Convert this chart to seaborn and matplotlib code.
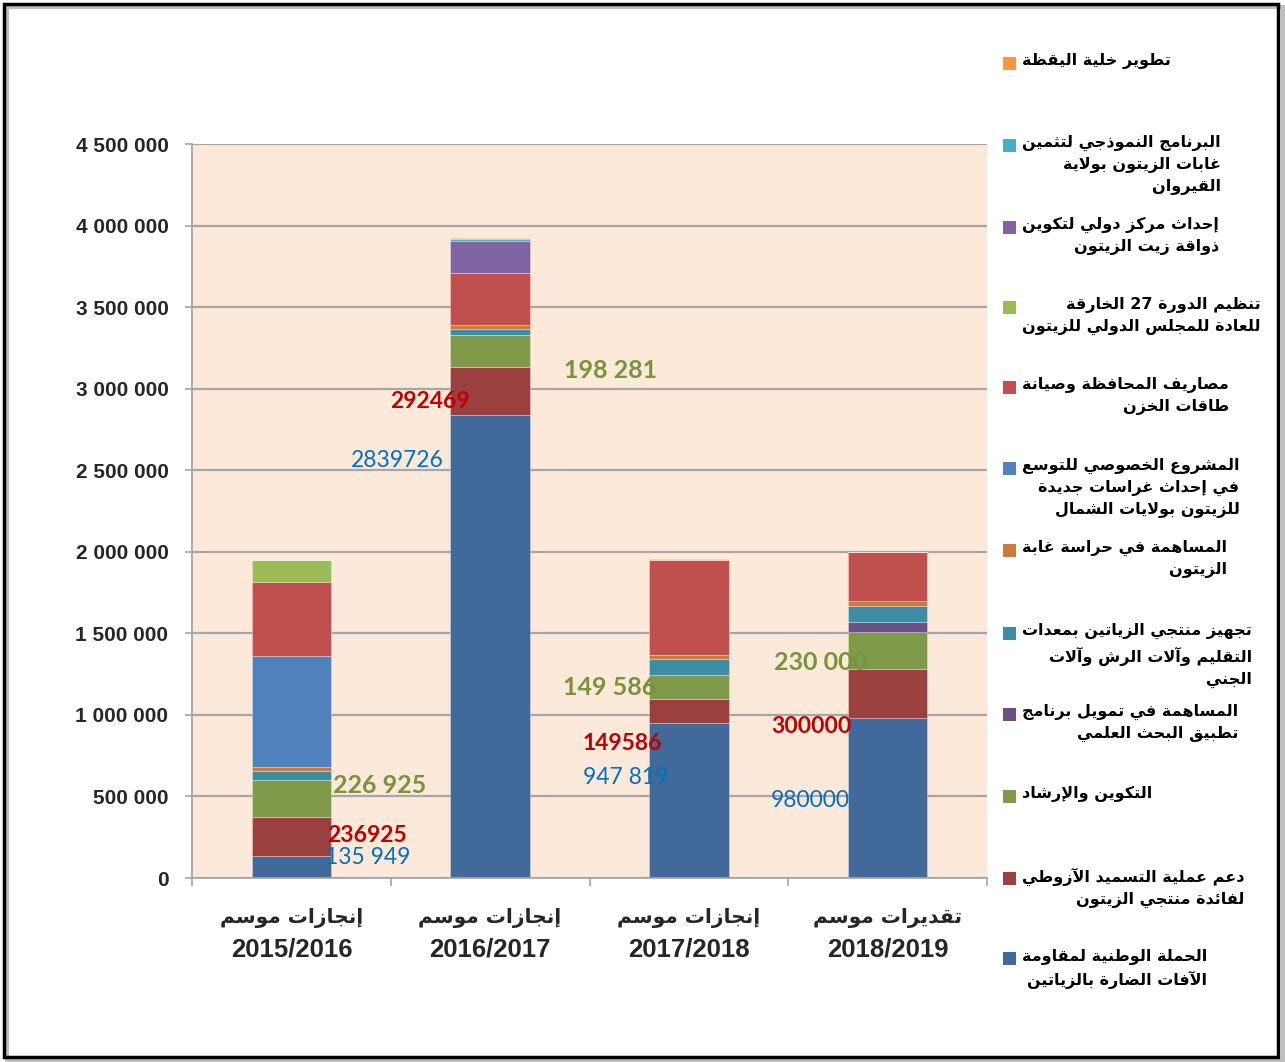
import numpy as np
import pandas as pd
import matplotlib
matplotlib.use("Agg")
import matplotlib.pyplot as plt
import seaborn as sns
from matplotlib.patches import Rectangle
from matplotlib.ticker import FuncFormatter, FixedLocator
from matplotlib.transforms import blended_transform_factory

# ---------------- data ----------------
seasons = ["2015/2016", "2016/2017", "2017/2018", "2018/2019"]
season_kind = ["إنجازات موسم", "إنجازات موسم", "إنجازات موسم", "تقديرات موسم"]

# legend order (top of legend = top of stack)
series_labels = [
    "تطوير خلية اليقظة",
    "البرنامج النموذجي لتثمين\nغابات الزيتون بولاية\nالقيروان",
    "إحداث مركز دولي لتكوين\nذواقة زيت الزيتون",
    "تنظيم الدورة 27 الخارقة\nللعادة للمجلس الدولي للزيتون",
    "مصاريف المحافظة وصيانة\nطاقات الخزن",
    "المشروع الخصوصي للتوسع\nفي إحداث غراسات جديدة\nللزيتون بولايات الشمال",
    "المساهمة في حراسة غابة\nالزيتون",
    "تجهيز منتجي الزياتين بمعدات\nالتقليم وآلات الرش وآلات\nالجني",
    "المساهمة في تمويل برنامج\nتطبيق البحث العلمي",
    "التكوين والإرشاد",
    "دعم عملية التسميد الآزوطي\nلفائدة منتجي الزيتون",
    "الحملة الوطنية لمقاومة\nالآفات الضارة بالزياتين",
]

v_cell = [0, 4000, 8000, 0]
v_kairouan = [0, 12000, 0, 0]
v_center = [0, 198000, 0, 0]
v_ioc = [133000, 0, 0, 0]
v_storage = [454000, 320000, 582000, 300000]
v_north = [684000, 0, 0, 0]
v_guard = [21000, 23000, 20000, 26000]
v_equip = [57000, 36000, 98000, 100000]
v_research = [0, 0, 0, 60000]
v_training = [226925, 198281, 149586, 230000]
v_fertil = [236925, 292469, 149586, 300000]
v_campaign = [135949, 2839726, 947819, 980000]

series_values = [v_cell, v_kairouan, v_center, v_ioc, v_storage, v_north,
                 v_guard, v_equip, v_research, v_training, v_fertil, v_campaign]

series_colors = ["#F79646", "#4BACC6", "#8064A2", "#9BBB59", "#C0504D", "#4F81BD",
                 "#CC7B3C", "#3C8CA5", "#6B5088", "#7F9A48", "#9A403E", "#41699A"]

# data labels shown on the chart
lbl_training = ["226 925", "198 281", "149 586", "230 000"]
lbl_fertil = ["236925", "292469", "149586", "300000"]
lbl_campaign = ["135 949", "2839726", "947 819", "980000"]

# ---------------- minimal Arabic shaping ----------------
_F = {
    'ء': (0xFE80, None, None, None),
    'آ': (0xFE81, 0xFE82, None, None),
    'أ': (0xFE83, 0xFE84, None, None),
    'ؤ': (0xFE85, 0xFE86, None, None),
    'إ': (0xFE87, 0xFE88, None, None),
    'ئ': (0xFE89, 0xFE8A, 0xFE8B, 0xFE8C),
    'ا': (0xFE8D, 0xFE8E, None, None),
    'ب': (0xFE8F, 0xFE90, 0xFE91, 0xFE92),
    'ة': (0xFE93, 0xFE94, None, None),
    'ت': (0xFE95, 0xFE96, 0xFE97, 0xFE98),
    'ث': (0xFE99, 0xFE9A, 0xFE9B, 0xFE9C),
    'ج': (0xFE9D, 0xFE9E, 0xFE9F, 0xFEA0),
    'ح': (0xFEA1, 0xFEA2, 0xFEA3, 0xFEA4),
    'خ': (0xFEA5, 0xFEA6, 0xFEA7, 0xFEA8),
    'د': (0xFEA9, 0xFEAA, None, None),
    'ذ': (0xFEAB, 0xFEAC, None, None),
    'ر': (0xFEAD, 0xFEAE, None, None),
    'ز': (0xFEAF, 0xFEB0, None, None),
    'س': (0xFEB1, 0xFEB2, 0xFEB3, 0xFEB4),
    'ش': (0xFEB5, 0xFEB6, 0xFEB7, 0xFEB8),
    'ص': (0xFEB9, 0xFEBA, 0xFEBB, 0xFEBC),
    'ض': (0xFEBD, 0xFEBE, 0xFEBF, 0xFEC0),
    'ط': (0xFEC1, 0xFEC2, 0xFEC3, 0xFEC4),
    'ظ': (0xFEC5, 0xFEC6, 0xFEC7, 0xFEC8),
    'ع': (0xFEC9, 0xFECA, 0xFECB, 0xFECC),
    'غ': (0xFECD, 0xFECE, 0xFECF, 0xFED0),
    'ف': (0xFED1, 0xFED2, 0xFED3, 0xFED4),
    'ق': (0xFED5, 0xFED6, 0xFED7, 0xFED8),
    'ك': (0xFED9, 0xFEDA, 0xFEDB, 0xFEDC),
    'ل': (0xFEDD, 0xFEDE, 0xFEDF, 0xFEE0),
    'م': (0xFEE1, 0xFEE2, 0xFEE3, 0xFEE4),
    'ن': (0xFEE5, 0xFEE6, 0xFEE7, 0xFEE8),
    'ه': (0xFEE9, 0xFEEA, 0xFEEB, 0xFEEC),
    'و': (0xFEED, 0xFEEE, None, None),
    'ى': (0xFEEF, 0xFEF0, None, None),
    'ي': (0xFEF1, 0xFEF2, 0xFEF3, 0xFEF4),
}
_LA = {'آ': (0xFEF5, 0xFEF6), 'أ': (0xFEF7, 0xFEF8), 'إ': (0xFEF9, 0xFEFA), 'ا': (0xFEFB, 0xFEFC)}


def _dual(c):
    return c in _F and _F[c][2] is not None


def _jp(c):
    return c is not None and c in _F and _F[c][1] is not None


def _shape_line(s):
    n = len(s)
    out = []
    i = 0
    while i < n:
        c = s[i]
        prev = s[i - 1] if i > 0 else None
        if c == 'ل' and i + 1 < n and s[i + 1] in _LA:
            iso, fin = _LA[s[i + 1]]
            out.append(chr(fin if (prev is not None and _dual(prev)) else iso))
            i += 2
            continue
        if c not in _F:
            out.append(c)
            i += 1
            continue
        nxt = s[i + 1] if i + 1 < n else None
        pj = prev is not None and _dual(prev) and _jp(c)
        nj = _dual(c) and _jp(nxt)
        iso, fin, ini, med = _F[c]
        if pj and nj:
            code = med
        elif pj:
            code = fin
        elif nj:
            code = ini
        else:
            code = iso
        out.append(chr(code))
        i += 1
    shaped = "".join(out)
    # visual order: RTL, keeping digit runs left-to-right
    runs, cur, cur_ltr = [], "", None
    for ch in shaped:
        is_ltr = ch.isdigit() or ch in "/.,"
        if cur_ltr is None or is_ltr == cur_ltr:
            cur += ch
        else:
            runs.append((cur, cur_ltr))
            cur = ch
        cur_ltr = is_ltr
    if cur:
        runs.append((cur, cur_ltr))
    return "".join(r if ltr else r[::-1] for r, ltr in reversed(runs))


def ar(s):
    return "\n".join(_shape_line(line) for line in s.split("\n"))


# ---------------- figure ----------------
sns.set_style("white")
plt.rcParams["font.family"] = ["Liberation Sans", "DejaVu Sans"]

W, H = 1285, 1062
fig = plt.figure(figsize=(W / 100, H / 100), dpi=100)
fig.patch.set_facecolor("white")
ax = fig.add_axes([192 / W, 1 - 878 / H, 795 / W, 734 / H])
ax.set_facecolor("#FDE9D9")

keys = [f"s{i:02d}" for i in range(len(series_values))]
df = pd.DataFrame({
    "pos": np.tile(np.arange(len(seasons)), len(keys)),
    "series": np.repeat(keys, len(seasons)),
    "value": np.concatenate(series_values),
})
palette = dict(zip(keys, series_colors))

sns.histplot(data=df, x="pos", weights="value", hue="series", hue_order=keys,
             multiple="stack", discrete=True, shrink=0.4, palette=palette,
             alpha=1, edgecolor=(1, 1, 1, 0.35), linewidth=0.6, legend=False, ax=ax)

ax.set_xlim(-0.5, len(seasons) - 0.5)
ax.set_ylim(0, 4500000)
ax.set_xlabel("")
ax.set_ylabel("")

ax.set_axisbelow(True)
ax.yaxis.set_major_locator(FixedLocator(np.arange(0, 4500001, 500000)))
ax.yaxis.grid(True, color="#A6A6A6", linewidth=1.6)
ax.xaxis.grid(False)
ax.yaxis.set_major_formatter(FuncFormatter(lambda v, _: f"{int(v):,}".replace(",", " ")))
for sp in ["top", "right"]:
    ax.spines[sp].set_visible(False)
for sp in ["left", "bottom"]:
    ax.spines[sp].set_color("#A6A6A6")
    ax.spines[sp].set_linewidth(1.3)

ax.tick_params(axis="y", length=5, width=1.2, color="#A6A6A6", pad=12, left=True)
for t in ax.get_yticklabels():
    t.set_fontweight("bold")
    t.set_fontsize(15)

# x labels: year as tick label, Arabic season line above it
ax.set_xticks(np.arange(len(seasons)))
ax.set_xticklabels(seasons, fontsize=18.5, fontweight="bold")
ax.set_xticks(np.arange(len(seasons) + 1) - 0.5, minor=True)
ax.tick_params(axis="x", which="major", length=0, pad=43)
ax.tick_params(axis="x", which="minor", length=6, width=1.2, color="#A6A6A6", bottom=True)
btrans = blended_transform_factory(ax.transData, ax.transAxes)
for i, k in enumerate(season_kind):
    ax.text(i, -40 / 734, ar(k), transform=btrans, ha="center", va="center",
            fontsize=14.5, fontweight="bold", family="DejaVu Sans")

# data labels (placed like the original, left of each bar)
lbl_pos_training = [(0.21, 570000), (1.372, 3114000), (1.367, 1165000), (2.428, 1324000)]
lbl_pos_fertil = [(0.179, 258000), (0.496, 2924000), (1.467, 822000), (2.413, 926000)]
lbl_pos_campaign = [(0.169, 128000), (0.30, 2557000), (1.467, 619000), (2.413, 478000)]
for (x, y), t in zip(lbl_pos_training, lbl_training):
    ax.text(x, y, t, color="#77933C", fontsize=18, fontweight="bold", family="Lato",
            ha="left", va="center")
for (x, y), t in zip(lbl_pos_fertil, lbl_fertil):
    ax.text(x, y, t, color="#C00000", fontsize=16.5, fontweight="bold", family="Lato",
            ha="left", va="center")
for (x, y), t in zip(lbl_pos_campaign, lbl_campaign):
    ax.text(x, y, t, color="#0070C0", fontsize=16.5, family="Lato",
            ha="left", va="center")

# legend (drawn manually, right-aligned Arabic blocks)
leg_first_line_y = [63, 145, 227, 307, 387, 468, 550, 633, 714, 796, 878, 958]
for lab, col, yy in zip(series_labels, series_colors, leg_first_line_y):
    fig.patches.append(Rectangle((1003 / W, 1 - (yy + 7) / H), 13 / W, 13 / H,
                                 transform=fig.transFigure, facecolor=col,
                                 edgecolor="none"))
    fig.text(1022 / W, 1 - (yy - 10) / H, ar(lab), ha="left", va="top",
             multialignment="right", fontsize=11.5, fontweight="bold",
             family="DejaVu Sans", linespacing=1.5, color="black")

# outer frame with shadow
fig.patches.append(Rectangle((7 / W, 1 - 1061 / H), 1276 / W, 1054 / H,
                             transform=fig.transFigure, facecolor="none",
                             edgecolor="#BFBFBF", linewidth=3))
fig.patches.append(Rectangle((4 / W, 1 - 1057 / H), 1274 / W, 1053 / H,
                             transform=fig.transFigure, facecolor="none",
                             edgecolor="black", linewidth=2.5))

fig.savefig("out.png", dpi=100, facecolor="white")
